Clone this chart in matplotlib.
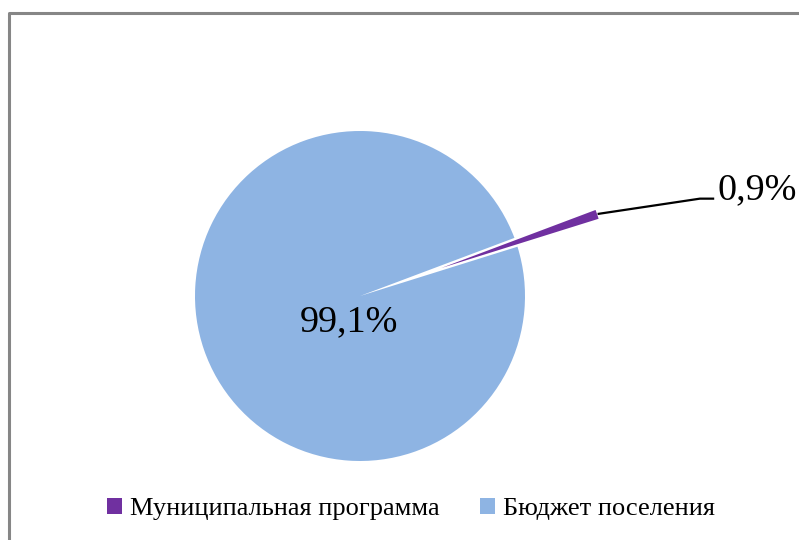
import numpy as np
import matplotlib.pyplot as plt
from matplotlib.lines import Line2D
from matplotlib.patches import Patch

plt.rcParams['font.family'] = ['Liberation Serif', 'DejaVu Serif']

labels = ['Муниципальная программа', 'Бюджет поселения']
values = [0.9, 99.1]
pct_text = ['0,9%', '99,1%']
colors = ['#7030A0', '#8EB4E3']

fig = plt.figure(figsize=(7.99, 5.40), dpi=100)
ax = fig.add_axes([0, 0, 1, 1])

# purple slice centred at ~19 deg, pulled far out
mid = 19
start = mid + values[0] / 100 * 360 / 2
wedges, _ = ax.pie(values, colors=colors, startangle=start, counterclock=False,
                   explode=[0.52, 0], radius=1, wedgeprops=dict(linewidth=0))

# one unit = 165 px, centre at (360, 296) px
r_px = 165
cx, cy = 360, 296
ax.set_xlim(-cx / r_px, (799 - cx) / r_px)
ax.set_ylim(-(540 - cy) / r_px, cy / r_px)
ax.set_aspect('auto')
ax.axis('off')

# label for the big slice
ax.text(-0.07, -0.16, pct_text[1], fontsize=27.5, ha='center', va='center')

# leader line for the small slice
th = np.deg2rad(mid)
p0 = (1.53 * np.cos(th), 1.53 * np.sin(th))
p1 = (2.06, 0.59)
p2 = (2.14, 0.59)
ax.plot([p0[0], p1[0], p2[0]], [p0[1], p1[1], p2[1]], color='black', lw=1.6)
ax.text(2.165, 0.585, pct_text[0], fontsize=27.5, ha='left', va='baseline')

# frame
fig.lines.append(Line2D([9 / 799, 9 / 799, 1], [0, 1 - 13 / 540, 1 - 13 / 540],
                        transform=fig.transFigure, color='#868686', lw=2.2))

handles = [Patch(facecolor=c, edgecolor='none') for c in colors]
fig.legend(handles, labels, loc='center', bbox_to_anchor=(411 / 799, 1 - 509 / 540),
           ncol=2, frameon=False, fontsize=19, handlelength=0.6, handleheight=0.6,
           handletextpad=0.3, columnspacing=1.5)

fig.savefig('out.png', dpi=100)
